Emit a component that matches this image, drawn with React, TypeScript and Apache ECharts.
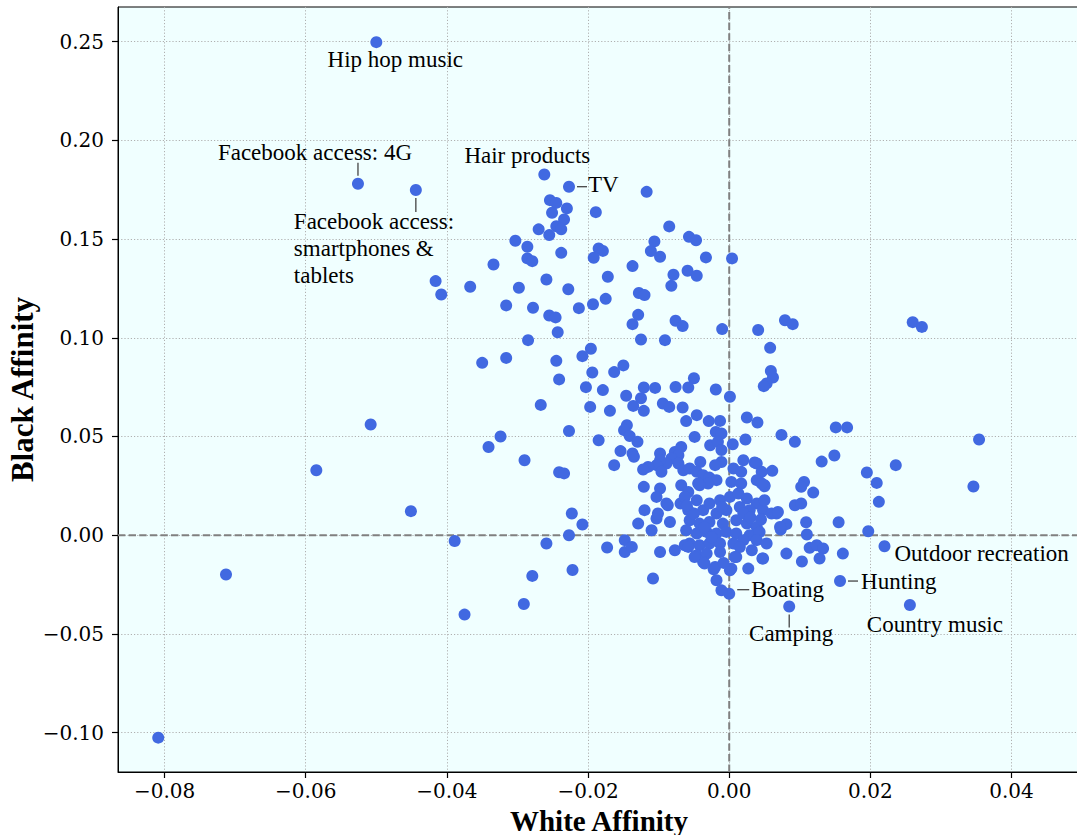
import React, { useEffect, useRef } from "react";
import * as echarts from "echarts";

// ---- tick values ----
const xTicks = [-0.08, -0.06, -0.04, -0.02, 0, 0.02, 0.04];
const yTicks = [-0.1, -0.05, 0, 0.05, 0.1, 0.15, 0.2, 0.25];
const xRange = [-0.0866, 0.0497];
const yRange = [-0.1199, 0.2675];

// ---- annotated points ----
const hipHop = [-0.05, 0.2497];
const fb4g = [-0.0526, 0.178];
const fbSmart = [-0.0444, 0.1748];
const hair = [-0.0262, 0.1827];
const tv = [-0.0227, 0.1765];
const outdoor = [0.022, -0.0056];
const hunting = [0.0157, -0.0232];
const boating = [0.0, -0.0296];
const camping = [0.0085, -0.0361];
const country = [0.0256, -0.0353];

// ---- far points ----
const outliers = [
  [-0.0809, -0.1025], [-0.0713, -0.0199], [-0.0585, 0.0329], [-0.0508, 0.0561],
  [-0.0451, 0.0122], [-0.0389, -0.0029], [-0.0375, -0.0402], [0.0354, 0.0485],
  [0.0346, 0.0247], [0.026, 0.1079], [0.0273, 0.1055],
];

// ---- high black-affinity cluster ----
const upperCluster = [
  [-0.0254, 0.1697], [-0.0245, 0.1683], [-0.023, 0.1655], [-0.0251, 0.1633], [-0.0189, 0.1636],
  [-0.0234, 0.1599], [-0.027, 0.1549], [-0.0245, 0.1565], [-0.0238, 0.1549], [-0.0255, 0.152],
  [-0.0303, 0.1491], [-0.0286, 0.1461], [-0.0286, 0.1402], [-0.0279, 0.1388], [-0.0238, 0.143],
  [-0.0185, 0.1452], [-0.0179, 0.144], [-0.0192, 0.1405], [-0.0334, 0.1371], [-0.0172, 0.1309],
  [-0.0416, 0.1287], [-0.0367, 0.1258], [-0.0298, 0.1253], [-0.0259, 0.1295], [-0.0228, 0.1246],
  [-0.0117, 0.1739], [-0.0085, 0.1564], [-0.0057, 0.1511], [-0.0047, 0.1494], [-0.0106, 0.1488],
  [-0.0111, 0.1439], [-0.0098, 0.141], [-0.0033, 0.1407], [0.0004, 0.1402], [-0.0137, 0.1363],
  [-0.0079, 0.1319], [-0.0059, 0.1339], [-0.0046, 0.1314], [-0.0082, 0.1263], [-0.0316, 0.1164],
  [-0.0278, 0.1152], [-0.0213, 0.115], [-0.0193, 0.117], [-0.0175, 0.1197], [-0.0128, 0.1227],
  [-0.012, 0.1216], [-0.0129, 0.1116], [-0.0255, 0.1113], [-0.0246, 0.1103], [-0.0076, 0.1086],
  [-0.0408, 0.1219], [-0.0137, 0.1069], [-0.0066, 0.1059], [-0.001, 0.1044], [0.0041, 0.1039],
];

// ---- middle band ----
const middleBand = [
  [-0.0243, 0.1028], [-0.0285, 0.0988], [-0.0125, 0.0991], [-0.0091, 0.0988], [-0.0196, 0.0944],
  [-0.0208, 0.0907], [-0.035, 0.0873], [-0.0316, 0.0898], [-0.0245, 0.0883], [-0.015, 0.086],
  [-0.0163, 0.0826], [-0.0194, 0.0824], [-0.0241, 0.0789], [-0.005, 0.0795], [-0.0203, 0.075],
  [-0.0179, 0.0735], [-0.0121, 0.0748], [-0.0105, 0.0746], [-0.0076, 0.0751], [-0.0058, 0.0748],
  [-0.0019, 0.0738], [-0.0146, 0.0706], [-0.0125, 0.0694], [0.0001, 0.0701], [-0.0267, 0.066],
  [-0.0197, 0.065], [-0.0169, 0.063], [-0.0136, 0.0655], [-0.0121, 0.063], [-0.0094, 0.0667],
  [-0.0085, 0.065], [-0.0066, 0.0647], [-0.0061, 0.0578], [-0.0046, 0.0608], [-0.0029, 0.0578],
  [-0.0013, 0.0579], [0.0025, 0.0596], [0.004, 0.0571], [-0.0227, 0.0528], [-0.0324, 0.05],
  [-0.0341, 0.0447], [-0.0185, 0.0481], [-0.0145, 0.0557], [-0.0149, 0.0532], [-0.0141, 0.0502],
  [-0.013, 0.0473], [-0.0049, 0.0498], [-0.0019, 0.0523], [-0.0011, 0.0515], [-0.0027, 0.0456],
  [0.0005, 0.0461], [0.0023, 0.0485], [-0.0016, 0.0473], [-0.029, 0.038], [-0.0241, 0.0319],
  [-0.0234, 0.0313],
];

// ---- right-hand group ----
const rightGroup = [
  [0.0079, 0.1089], [0.009, 0.1069], [0.0058, 0.0949], [0.0059, 0.0832], [0.0062, 0.0799],
  [0.0053, 0.0769], [0.0049, 0.0755], [0.0074, 0.0508], [0.0093, 0.0473], [0.0151, 0.0546],
  [0.0167, 0.0546], [0.0131, 0.0373], [0.0149, 0.0404], [0.0236, 0.0355], [0.0195, 0.0318],
  [0.0209, 0.0265], [0.0212, 0.0169], [0.002, 0.038], [0.0036, 0.0368], [0.0061, 0.0326],
  [0.0041, 0.0279], [0.005, 0.0253], [0.0106, 0.027], [0.0102, 0.0245], [0.0119, 0.0216],
  [0.0093, 0.0152], [0.0102, 0.0161], [0.0067, 0.011], [0.0081, 0.0056], [0.0073, 0.0029],
  [0.0109, 0.0066], [0.011, 0.0004], [0.0155, 0.0066], [0.0197, 0.002], [0.0114, -0.0064],
  [0.0124, -0.0051], [0.0133, -0.0067], [0.0128, -0.0118], [0.0103, -0.0133], [0.0081, -0.0093],
  [0.0047, -0.0118], [0.0027, -0.0169], [0.0161, -0.0093],
];

// ---- lower-left scatter ----
const lowerLeft = [
  [-0.0223, 0.011], [-0.0208, 0.0054], [-0.0227, 0.0], [-0.0259, -0.0042], [-0.0222, -0.0176],
  [-0.0279, -0.0206], [-0.0291, -0.0348],
];

// ---- dense core near the origin ----
const coreCluster = [
  [-0.0154, 0.0426], [-0.0137, 0.0414], [-0.0135, 0.0397], [-0.0163, 0.0355], [-0.0098, 0.0414],
  [-0.0077, 0.0422], [-0.0068, 0.0447], [-0.0072, 0.0405], [-0.0082, 0.0389], [-0.0089, 0.0363],
  [-0.0098, 0.038], [-0.0103, 0.0355], [-0.0115, 0.0346], [-0.0122, 0.0333], [-0.0096, 0.0321],
  [-0.0072, 0.0363], [-0.0041, 0.0371], [-0.0011, 0.0371], [-0.002, 0.0355], [-0.0011, 0.0431],
  [-0.0065, 0.0329], [-0.0056, 0.0338], [-0.0046, 0.0321], [-0.0037, 0.0304], [-0.0028, 0.0292],
  [-0.0018, 0.0279], [-0.003, 0.0262], [-0.0042, 0.0253], [-0.0121, 0.0245], [-0.0098, 0.0237],
  [-0.0068, 0.0253], [-0.0058, 0.0219], [0.0006, 0.0338], [0.0017, 0.0321], [0.0039, 0.0363],
  [0.0046, 0.0321], [0.0003, 0.027], [0.0017, 0.0262], [0.0039, 0.0279], [0.005, 0.0248],
  [-0.0173, -0.0062], [-0.0148, -0.0025], [-0.0148, -0.0085], [-0.0138, -0.0059], [-0.0129, 0.0059],
  [-0.011, 0.0025], [-0.012, 0.0127], [-0.0103, 0.0085], [-0.0098, -0.0085], [-0.0077, -0.0076],
  [-0.0108, -0.0219], [-0.0069, 0.0161], [-0.0084, 0.0067], [-0.0058, 0.0127], [-0.0046, 0.0177],
  [-0.0037, 0.0127], [-0.0028, 0.0161], [-0.0013, 0.0177], [0.0001, 0.0194], [0.0013, 0.0211],
  [0.0025, 0.0186], [0.0039, 0.0161], [0.0048, 0.0127], [0.0029, 0.0127], [0.0015, 0.0143],
  [-0.0004, 0.0127], [-0.0018, 0.011], [-0.0056, 0.0076], [-0.0042, 0.0059], [-0.0028, 0.0067],
  [-0.0009, 0.0059], [0.001, 0.0076], [0.0025, 0.0059], [0.0039, 0.0042], [-0.0061, 0.0025],
  [-0.0046, 0.0009], [-0.0032, 0.0017], [-0.0018, 0.0009], [-0.0004, 0.0017], [0.001, 0.0009],
  [0.0029, 0.0], [0.0043, 0.0017], [-0.0056, -0.0042], [-0.0042, -0.0051], [-0.0028, -0.0042],
  [-0.0013, -0.0042], [0.0006, -0.0042], [0.002, -0.0025], [0.0039, -0.0025], [0.0053, -0.0042],
  [-0.0046, -0.0101], [-0.0032, -0.0093], [-0.0013, -0.0085], [0.001, -0.011], [0.0032, -0.0076],
  [0.0048, -0.0118], [-0.0037, -0.0135], [-0.0022, -0.0172], [0.0001, -0.0177], [-0.0018, -0.0228],
  [-0.0011, -0.0279], [-0.0063, -0.0051], [-0.0044, 0.0262], [0.0046, 0.0262], [-0.0063, 0.0194],
  [-0.0087, 0.0152], [-0.0101, 0.011], [0.005, 0.0177], [0.006, 0.011], [0.0069, 0.0118],
  [0.0072, 0.0042], [-0.0058, -0.0059], [-0.0049, -0.011], [-0.0035, -0.0143], [-0.002, -0.0161],
  [0.0008, -0.011], [0.0003, -0.0169], [-0.0103, 0.0194], [-0.0089, 0.0161],
  [-0.001, 0.0143], [0.002, 0.011], [-0.0035, 0.004], [0.003, 0.009], [-0.0025, -0.001],
  [0.0015, -0.006], [-0.005, 0.011], [0.0045, 0.008], [-0.0008, -0.014], [-0.006, 0.015],
];

const annotations = [
  { label: "Hip hop music", point: hipHop, dx: 19, dy: 17, align: "center", line: null },
  { label: "Facebook access: 4G", point: fb4g, dx: -43, dy: -31, align: "center", line: [0, -21, 0, -8] },
  { label: "Facebook access:\nsmartphones &\ntablets", point: fbSmart, dx: -122, dy: 18, align: "left", vtop: true, line: [0, 8, 0, 22] },
  { label: "Hair products", point: hair, dx: -17, dy: -19, align: "center", line: null },
  { label: "TV", point: tv, dx: 19, dy: -2, align: "left", line: [8, 0, 18, 0] },
  { label: "Outdoor recreation", point: outdoor, dx: 10, dy: 7, align: "left", line: null },
  { label: "Hunting", point: hunting, dx: 21, dy: 0, align: "left", line: [8, 0, 18, 0] },
  { label: "Boating", point: boating, dx: 22, dy: -4, align: "left", line: [8, -4, 20, -4] },
  { label: "Camping", point: camping, dx: 2, dy: 27, align: "center", line: [0, 8, 0, 21] },
  { label: "Country music", point: country, dx: 25, dy: 20, align: "center", line: null },
];

const allPoints = [
  hipHop, fb4g, fbSmart, hair, tv, outdoor, hunting, boating, camping, country,
  ...outliers, ...upperCluster, ...middleBand, ...rightGroup, ...lowerLeft, ...coreCluster,
];

const fmt = (v: number) => {
  const a = Math.abs(v).toFixed(2);
  return v < -1e-9 ? "\u2212" + a : a;
};

export default function App() {
  const ref = useRef<HTMLDivElement>(null);
  useEffect(() => {
    if (!ref.current) return;
    const chart = echarts.init(ref.current, null, { renderer: "svg" });
    const tickFont = { fontFamily: "DejaVu Serif", fontSize: 20, lineHeight: 20, color: "#000" };
    const gridLine = { show: true, lineStyle: { type: [1.2, 2] as any, color: "#b0b0b0", width: 1 } };
    const nameFont = { fontFamily: "Liberation Serif", fontWeight: "bold", fontSize: 29, color: "#000", lineHeight: 29 };
    const zeroStyle = { type: [7.4, 3.2] as any, color: "#808080", width: 2 };
    const option: any = {
      animation: false,
      backgroundColor: "#ffffff",
      grid: {
        left: 118, top: 7, width: 962, height: 765,
        outerBoundsMode: "none", containLabel: false,
        show: true, backgroundColor: "#F0FFFF", borderColor: "#000", borderWidth: 1,
      },
      xAxis: {
        type: "value", min: xRange[0], max: xRange[1],
        name: "White Affinity", nameLocation: "middle", nameGap: 34, nameMoveOverlap: false,
        nameTextStyle: nameFont,
        axisLine: { show: true, onZero: false, lineStyle: { color: "#000", width: 1 } },
        axisTick: { show: true, inside: false, length: 6, customValues: xTicks, lineStyle: { color: "#000", width: 1.2 } },
        axisLabel: { ...tickFont, margin: 9, customValues: xTicks, formatter: fmt },
        splitLine: gridLine,
      },
      yAxis: {
        type: "value", min: yRange[0], max: yRange[1],
        name: "Black Affinity", nameLocation: "middle", nameGap: 80, nameRotate: 90, nameMoveOverlap: false,
        nameTextStyle: { ...nameFont, fontSize: 31, lineHeight: 31 },
        axisLine: { show: true, onZero: false, lineStyle: { color: "#000", width: 1 } },
        axisTick: { show: true, inside: false, length: 6, customValues: yTicks, lineStyle: { color: "#000", width: 1.2 } },
        axisLabel: { ...tickFont, margin: 14, customValues: yTicks, formatter: fmt },
        splitLine: gridLine,
      },
      series: [
        {
          type: "line", data: [[0, yRange[0]], [0, yRange[1]]], z: 1, silent: true,
          symbol: "none", lineStyle: zeroStyle,
        },
        {
          type: "line", data: [[xRange[0], 0], [xRange[1], 0]], z: 1, silent: true,
          symbol: "none", lineStyle: zeroStyle,
        },
        {
          type: "scatter", data: allPoints, z: 3, symbol: "circle", symbolSize: 12,
          itemStyle: { color: "#4169E1", opacity: 1 },
        },
      ],
    };
    chart.setOption(option);

    const els: any[] = [];
    annotations.forEach((a) => {
      const p = chart.convertToPixel({ gridIndex: 0 }, a.point) as number[];
      els.push({
        type: "text", x: p[0] + a.dx, y: p[1] + a.dy, z: 10,
        style: {
          text: a.label, fill: "#000", fontFamily: "Liberation Serif", fontSize: 23,
          align: a.align, verticalAlign: a.vtop ? "top" : "middle", lineHeight: 27,
        },
      });
      if (a.line) {
        els.push({
          type: "line", z: 10,
          shape: { x1: p[0] + a.line[0], y1: p[1] + a.line[1], x2: p[0] + a.line[2], y2: p[1] + a.line[3] },
          style: { stroke: "#444", lineWidth: 1.3 },
        });
      }
    });
    chart.setOption({ graphic: els });
    return () => chart.dispose();
  }, []);
  return <div ref={ref} style={{ position: "absolute", left: 0, top: 0, width: 1077, height: 835 }} />;
}
